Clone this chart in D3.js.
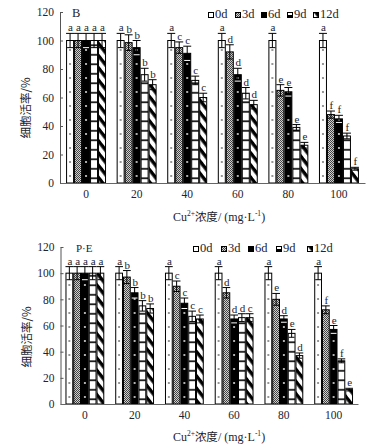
<!DOCTYPE html>
<html><head><meta charset="utf-8">
<script src="https://cdn.jsdelivr.net/npm/d3@7"></script>
<style>body{margin:0;background:#fff}svg{display:block}</style>
</head><body><svg id="c" width="386" height="448"></svg>
<script>
const categories = ["0","20","40","60","80","100"];
const series = ["0d","3d","6d","9d","12d"];
const yTicks = [0,20,40,60,80,100,120];

// Panel B values
const b0d  = [100,100,100,100,100,100];
const b3d  = [100,98.5,95,92,65,48];
const b6d  = [100,95,91,76,64,45];
const b9d  = [100,76,72,63,39,33];
const b12d = [100,69,60,55,26.5,10];
const bErr0d  = [5,5,5,5,5,5];
const bErr3d  = [5,5.5,4,5,4,2.5];
const bErr6d  = [5,5,5,4.5,3,2.5];
const bErr9d  = [5,4.5,3,4,2,2];
const bErr12d = [5,3.5,3,3,2,1];
const bLet0d  = ["a","a","a","a","a","a"];
const bLet3d  = ["a","b","c","d","e","f"];
const bLet6d  = ["a","b","c","d","e","f"];
const bLet9d  = ["a","b","c","d","e","f"];
const bLet12d = ["a","b","c","d","e","f"];

// Panel P·E values
const p0d  = [100,100,100,100,100,100];
const p3d  = [100,97,90,85,80,72];
const p6d  = [100,85,77,65,65,57];
const p9d  = [100,75,67,66,54,33];
const p12d = [100,73,65,66,37,11];
const pErr0d  = [5,5,5,5,5,5];
const pErr3d  = [5,5,4,4,4.5,3];
const pErr6d  = [5,4,4,3,2.5,3];
const pErr9d  = [5,4,4,3,3,1.5];
const pErr12d = [5,3.5,3,3,2,1];
const pLet0d  = ["a","a","a","a","a","a"];
const pLet3d  = ["a","b","c","d","e","f"];
const pLet6d  = ["a","b","c","d","d","e"];
const pLet9d  = ["a","b","c","d","e","f"];
const pLet12d = ["a","b","c","c","d","e"];

const yLabel = "细胞活率/%";
const serif = "'Liberation Serif','Times New Roman',serif";
const cjk = "'Noto Sans CJK SC',sans-serif";
const txt = "#23232f";

const svg = d3.select("#c");
const defs = svg.append("defs");

// shared patterns
const chk = defs.append("pattern").attr("id","chk").attr("patternUnits","userSpaceOnUse").attr("width",2).attr("height",2);
chk.append("rect").attr("width",2).attr("height",2).attr("fill","#d0d0d0");
chk.append("rect").attr("width",1).attr("height",1).attr("fill","#444");
chk.append("rect").attr("x",1).attr("y",1).attr("width",1).attr("height",1).attr("fill","#444");

const dg = defs.append("pattern").attr("id","diag").attr("patternUnits","userSpaceOnUse")
  .attr("width",4).attr("height",7.5).attr("patternTransform","rotate(52)");
dg.append("rect").attr("width",4).attr("height",7.5).attr("fill","#fff");
dg.append("rect").attr("width",4).attr("height",3.4).attr("fill","#000");

function drawPanel(cfg){
  const g = svg.append("g");
  const x0 = d3.scaleBand().domain(categories).range(cfg.xr).paddingInner(cfg.pi).paddingOuter(cfg.po);
  const x1 = d3.scaleBand().domain(series).range([0, x0.bandwidth()]);
  const y = d3.scaleLinear().domain([0,120]).range(cfg.yr);
  const bw = x1.bandwidth();

  // horizontal-line pattern for 9d anchored at baseline
  const hl = defs.append("pattern").attr("id","hl"+cfg.id).attr("patternUnits","userSpaceOnUse")
    .attr("x",0).attr("y",y(0)).attr("width",4).attr("height",9.5);
  hl.append("rect").attr("width",4).attr("height",9.5).attr("fill","#fff");
  hl.append("rect").attr("y",4).attr("width",4).attr("height",1.6).attr("fill","#000");

  const rows = [];
  series.forEach((s,si)=>{
    categories.forEach((c,ci)=>{
      rows.push({s, si, c, ci, v: cfg.vals[si][ci], e: cfg.errs[si][ci], l: cfg.lets[si][ci]});
    });
  });

  rows.forEach(d=>{
    const bx = x0(d.c) + x1(d.s);
    d.bx = bx;
    if (d.si===0 || d.si===2){
      const pid = `dot-${cfg.id}-${d.si}-${d.ci}`;
      const p = defs.append("pattern").attr("id",pid).attr("patternUnits","userSpaceOnUse")
        .attr("x",bx).attr("y",y(0)).attr("width",bw).attr("height",14);
      p.append("rect").attr("width",bw).attr("height",14).attr("fill", d.si===0?"#fff":"#000");
      p.append("circle").attr("cx",bw/2).attr("cy",7).attr("r",0.9).attr("fill", d.si===0?"#666":"#fff");
      d.fill = `url(#${pid})`;
    } else if (d.si===1) d.fill = "url(#chk)";
    else if (d.si===3) d.fill = `url(#hl${cfg.id})`;
    else d.fill = "url(#diag)";
  });

  g.selectAll("rect.bar").data(rows).join("rect").attr("class","bar")
    .attr("x",d=>d.bx+0.5).attr("y",d=>y(d.v)).attr("width",bw-1).attr("height",d=>y(0)-y(d.v))
    .attr("fill",d=>d.fill).attr("stroke","#000").attr("stroke-width",1);

  // error bars
  const eb = g.selectAll("g.err").data(rows).join("g").attr("class","err")
    .attr("stroke","#000").attr("stroke-width",1);
  eb.append("line").attr("x1",d=>d.bx+bw/2).attr("x2",d=>d.bx+bw/2)
    .attr("y1",d=>y(d.v-d.e)).attr("y2",d=>y(d.v+d.e));
  eb.append("line").attr("x1",d=>d.bx).attr("x2",d=>d.bx+bw)
    .attr("y1",d=>y(d.v+d.e)).attr("y2",d=>y(d.v+d.e));
  eb.append("line").attr("x1",d=>d.bx+1).attr("x2",d=>d.bx+bw-1)
    .attr("y1",d=>y(d.v-d.e)).attr("y2",d=>y(d.v-d.e)).attr("stroke",d=>d.si===2?"#fff":"#000");

  // letters
  g.selectAll("text.let").data(rows).join("text").attr("class","let")
    .attr("x",d=>d.bx+bw/2+0.5).attr("y",d=>y(d.v+d.e)-2)
    .attr("text-anchor","middle").attr("font-family",serif).attr("font-size",11).attr("fill",txt)
    .text(d=>d.l);

  // y axis
  const ya = g.append("g").attr("transform",`translate(${cfg.xr[0]},0)`)
    .call(d3.axisLeft(y).tickValues(yTicks).tickSizeInner(-3).tickSizeOuter(0).tickPadding(6));
  ya.select(".domain").attr("stroke","#555");
  ya.selectAll(".tick line").attr("stroke","#555");
  ya.selectAll("text").attr("font-family",serif).attr("font-size",11.5).attr("fill",txt);

  // x axis
  const xa = g.append("g").attr("transform",`translate(0,${y(0)})`)
    .call(d3.axisBottom(x0).tickSize(0).tickPadding(7));
  xa.select(".domain").attr("stroke","#666");
  xa.selectAll("text").attr("font-family",serif).attr("font-size",11.5).attr("fill",txt);

  // y label
  g.append("text").attr("transform",`translate(${cfg.ylx},${cfg.yly}) rotate(-90)`)
    .attr("text-anchor","middle").attr("font-family",cjk).attr("font-size",11.5).attr("fill",txt)
    .text(yLabel);

  // x title
  const xt = g.append("text").attr("x",cfg.xtx).attr("y",cfg.xty).attr("text-anchor","middle")
    .attr("font-family",serif).attr("font-size",12).attr("fill",txt);
  xt.append("tspan").text("Cu");
  xt.append("tspan").attr("font-size",7.5).attr("dy",-5).text("2+");
  xt.append("tspan").attr("font-family",cjk).attr("font-size",11.5).attr("dy",5).text("浓度");
  xt.append("tspan").text("/ (mg·L");
  xt.append("tspan").attr("font-size",7.5).attr("dy",-5).text("-1");
  xt.append("tspan").attr("dy",5).text(")");

  // panel label
  g.append("text").attr("x",cfg.plx).attr("y",cfg.ply).attr("font-family",serif).attr("font-size",cfg.pls)
    .attr("fill",txt).text(cfg.label);

  // legend
  const lg = g.selectAll("g.leg").data(series).join("g").attr("class","leg")
    .attr("transform",(s,i)=>`translate(${cfg.legX[i]},${cfg.legY})`);
  lg.append("rect").attr("x",0.5).attr("y",-5.5).attr("width",5).attr("height",5)
    .attr("fill",(s,i)=>["#fff","url(#chk)","#000","#fff","url(#diag)"][i])
    .attr("stroke","#000").attr("stroke-width",1);
  lg.filter((s,i)=>i===3).append("rect").attr("x",1).attr("y",-3).attr("width",4).attr("height",2).attr("fill","#000");
  lg.append("text").attr("x",7).attr("y",0).attr("font-family",serif).attr("font-size",12.5).attr("fill",txt)
    .text(s=>s);
}

drawPanel({
  id:"B", label:"B",
  vals:[b0d,b3d,b6d,b9d,b12d], errs:[bErr0d,bErr3d,bErr6d,bErr9d,bErr12d], lets:[bLet0d,bLet3d,bLet6d,bLet9d,bLet12d],
  xr:[60,365], yr:[183,12], pi:0.21, po:0.12,
  ylx:30, yly:108, xtx:219, xty:221, plx:72, ply:17, pls:12.5,
  legX:[208,235,261,287,313], legY:18
});
drawPanel({
  id:"P", label:"P·E",
  vals:[p0d,p3d,p6d,p9d,p12d], errs:[pErr0d,pErr3d,pErr6d,pErr9d,pErr12d], lets:[pLet0d,pLet3d,pLet6d,pLet9d,pLet12d],
  xr:[60.5,358], yr:[404,247], pi:0.22, po:0.1,
  ylx:31, yly:337, xtx:219, xty:441, plx:76, ply:252, pls:11,
  legX:[193,221,248,276,307], legY:252
});
</script></body></html>
